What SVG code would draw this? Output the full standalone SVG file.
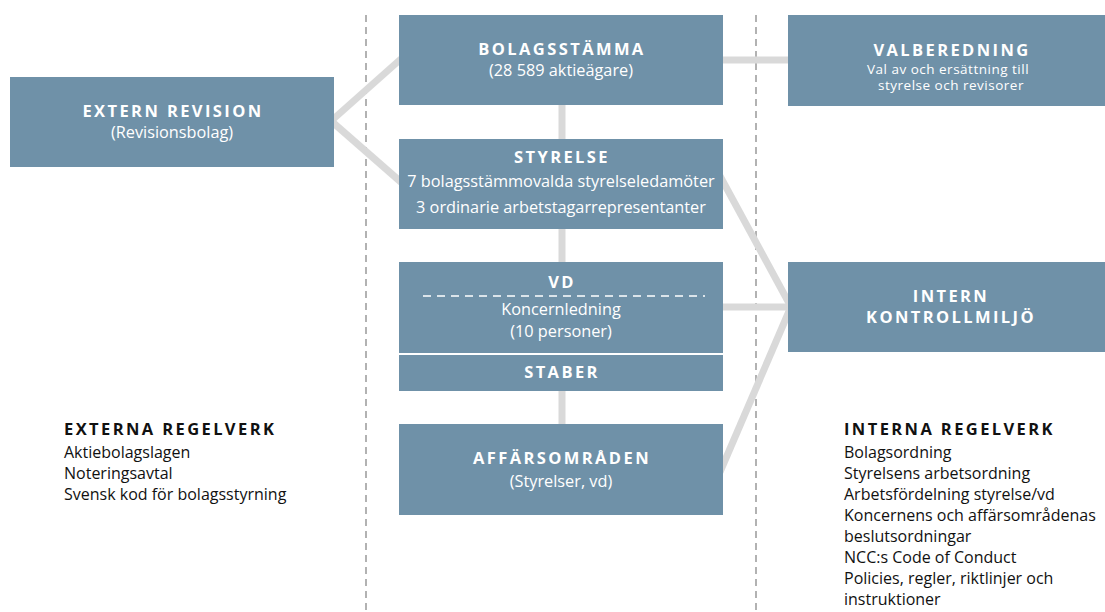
<svg xmlns="http://www.w3.org/2000/svg" width="1105" height="612" viewBox="0 0 1105 612">
<style>
.box{fill:#6f91a8}
.conn{stroke:#d9d9d9;stroke-width:7;fill:none}
.div{stroke:#999;stroke-width:1.5;stroke-dasharray:7 5;fill:none}
.t{font-family:"Open Sans","Liberation Sans",sans-serif;fill:#fff;text-anchor:middle}
.b{font-weight:bold;font-size:16.5px;letter-spacing:2.4px}
.r{font-size:16.3px}
.s{font-size:13.5px;letter-spacing:0.5px}
.k{font-family:"Open Sans","Liberation Sans",sans-serif;fill:#111;font-size:16px}
.kb{font-weight:bold;font-size:16.5px;letter-spacing:2.4px}
</style>
<rect width="1105" height="612" fill="#fff"/>
<line class="div" x1="366" y1="15" x2="366" y2="612"/>
<line class="div" x1="756" y1="15" x2="756" y2="612"/>
<g id="connectors">
<line class="conn" x1="330" y1="122" x2="402" y2="58"/>
<line class="conn" x1="330" y1="120" x2="402" y2="183"/>
<line class="conn" x1="720" y1="60" x2="792" y2="60"/>
<line class="conn" x1="562" y1="100" x2="562" y2="144"/>
<line class="conn" x1="562" y1="225" x2="562" y2="266"/>
<line class="conn" x1="562" y1="386" x2="562" y2="428"/>
<line class="conn" x1="720" y1="176" x2="790" y2="305"/>
<line class="conn" x1="720" y1="307" x2="792" y2="307"/>
<line class="conn" x1="720" y1="472" x2="790" y2="309"/>
</g>
<g id="extern-revision">
<rect class="box" x="10" y="77" width="324" height="90"/>
<text class="t b" x="173" y="117">EXTERN REVISION</text>
<text class="t r" x="172" y="138">(Revisionsbolag)</text>
</g>
<g id="bolagsstamma">
<rect class="box" x="399" y="15" width="324" height="90"/>
<text class="t b" x="562" y="55">BOLAGSSTÄMMA</text>
<text class="t r" x="561" y="76">(28 589 aktieägare)</text>
</g>
<g id="styrelse">
<rect class="box" x="399" y="139" width="324" height="90"/>
<text class="t b" x="562" y="163">STYRELSE</text>
<text class="t r" x="561" y="187">7 bolagsstämmovalda styrelseledamöter</text>
<text class="t r" x="561" y="213">3 ordinarie arbetstagarrepresentanter</text>
</g>
<g id="vd">
<rect class="box" x="399" y="262" width="324" height="91"/>
<text class="t b" x="562" y="288">VD</text>
<line x1="423" y1="296" x2="705" y2="296" stroke="#fff" stroke-width="1.5" stroke-dasharray="8 6"/>
<text class="t r" x="561" y="315">Koncernledning</text>
<text class="t r" x="561" y="337">(10 personer)</text>
</g>
<g id="staber">
<rect class="box" x="399" y="355" width="324" height="36"/>
<text class="t b" x="562" y="378">STABER</text>
</g>
<g id="affarsomraden">
<rect class="box" x="399" y="424" width="324" height="91"/>
<text class="t b" x="562" y="464">AFFÄRSOMRÅDEN</text>
<text class="t r" x="561" y="487">(Styrelser, vd)</text>
</g>
<g id="valberedning">
<rect class="box" x="788" y="15" width="317" height="91"/>
<text class="t b" x="952" y="56">VALBEREDNING</text>
<text class="t s" x="948" y="74">Val av och ersättning till</text>
<text class="t s" x="951" y="90">styrelse och revisorer</text>
</g>
<g id="intern-kontrollmiljo">
<rect class="box" x="788" y="262" width="317" height="90"/>
<text class="t b" x="951" y="302">INTERN</text>
<text class="t b" x="951" y="323">KONTROLLMILJÖ</text>
</g>
<g id="externa-regelverk">
<text class="k kb" x="64" y="435">EXTERNA REGELVERK</text>
<text class="k" x="64" y="458">Aktiebolagslagen</text>
<text class="k" x="64" y="479">Noteringsavtal</text>
<text class="k" x="64" y="500">Svensk kod för bolagsstyrning</text>
</g>
<g id="interna-regelverk">
<text class="k kb" x="844" y="435">INTERNA REGELVERK</text>
<text class="k" x="844" y="458">Bolagsordning</text>
<text class="k" x="844" y="479">Styrelsens arbetsordning</text>
<text class="k" x="844" y="500">Arbetsfördelning styrelse/vd</text>
<text class="k" x="844" y="521">Koncernens och affärsområdenas</text>
<text class="k" x="844" y="542">beslutsordningar</text>
<text class="k" x="844" y="563">NCC:s Code of Conduct</text>
<text class="k" x="844" y="584">Policies, regler, riktlinjer och</text>
<text class="k" x="844" y="605">instruktioner</text>
</g>
</svg>
